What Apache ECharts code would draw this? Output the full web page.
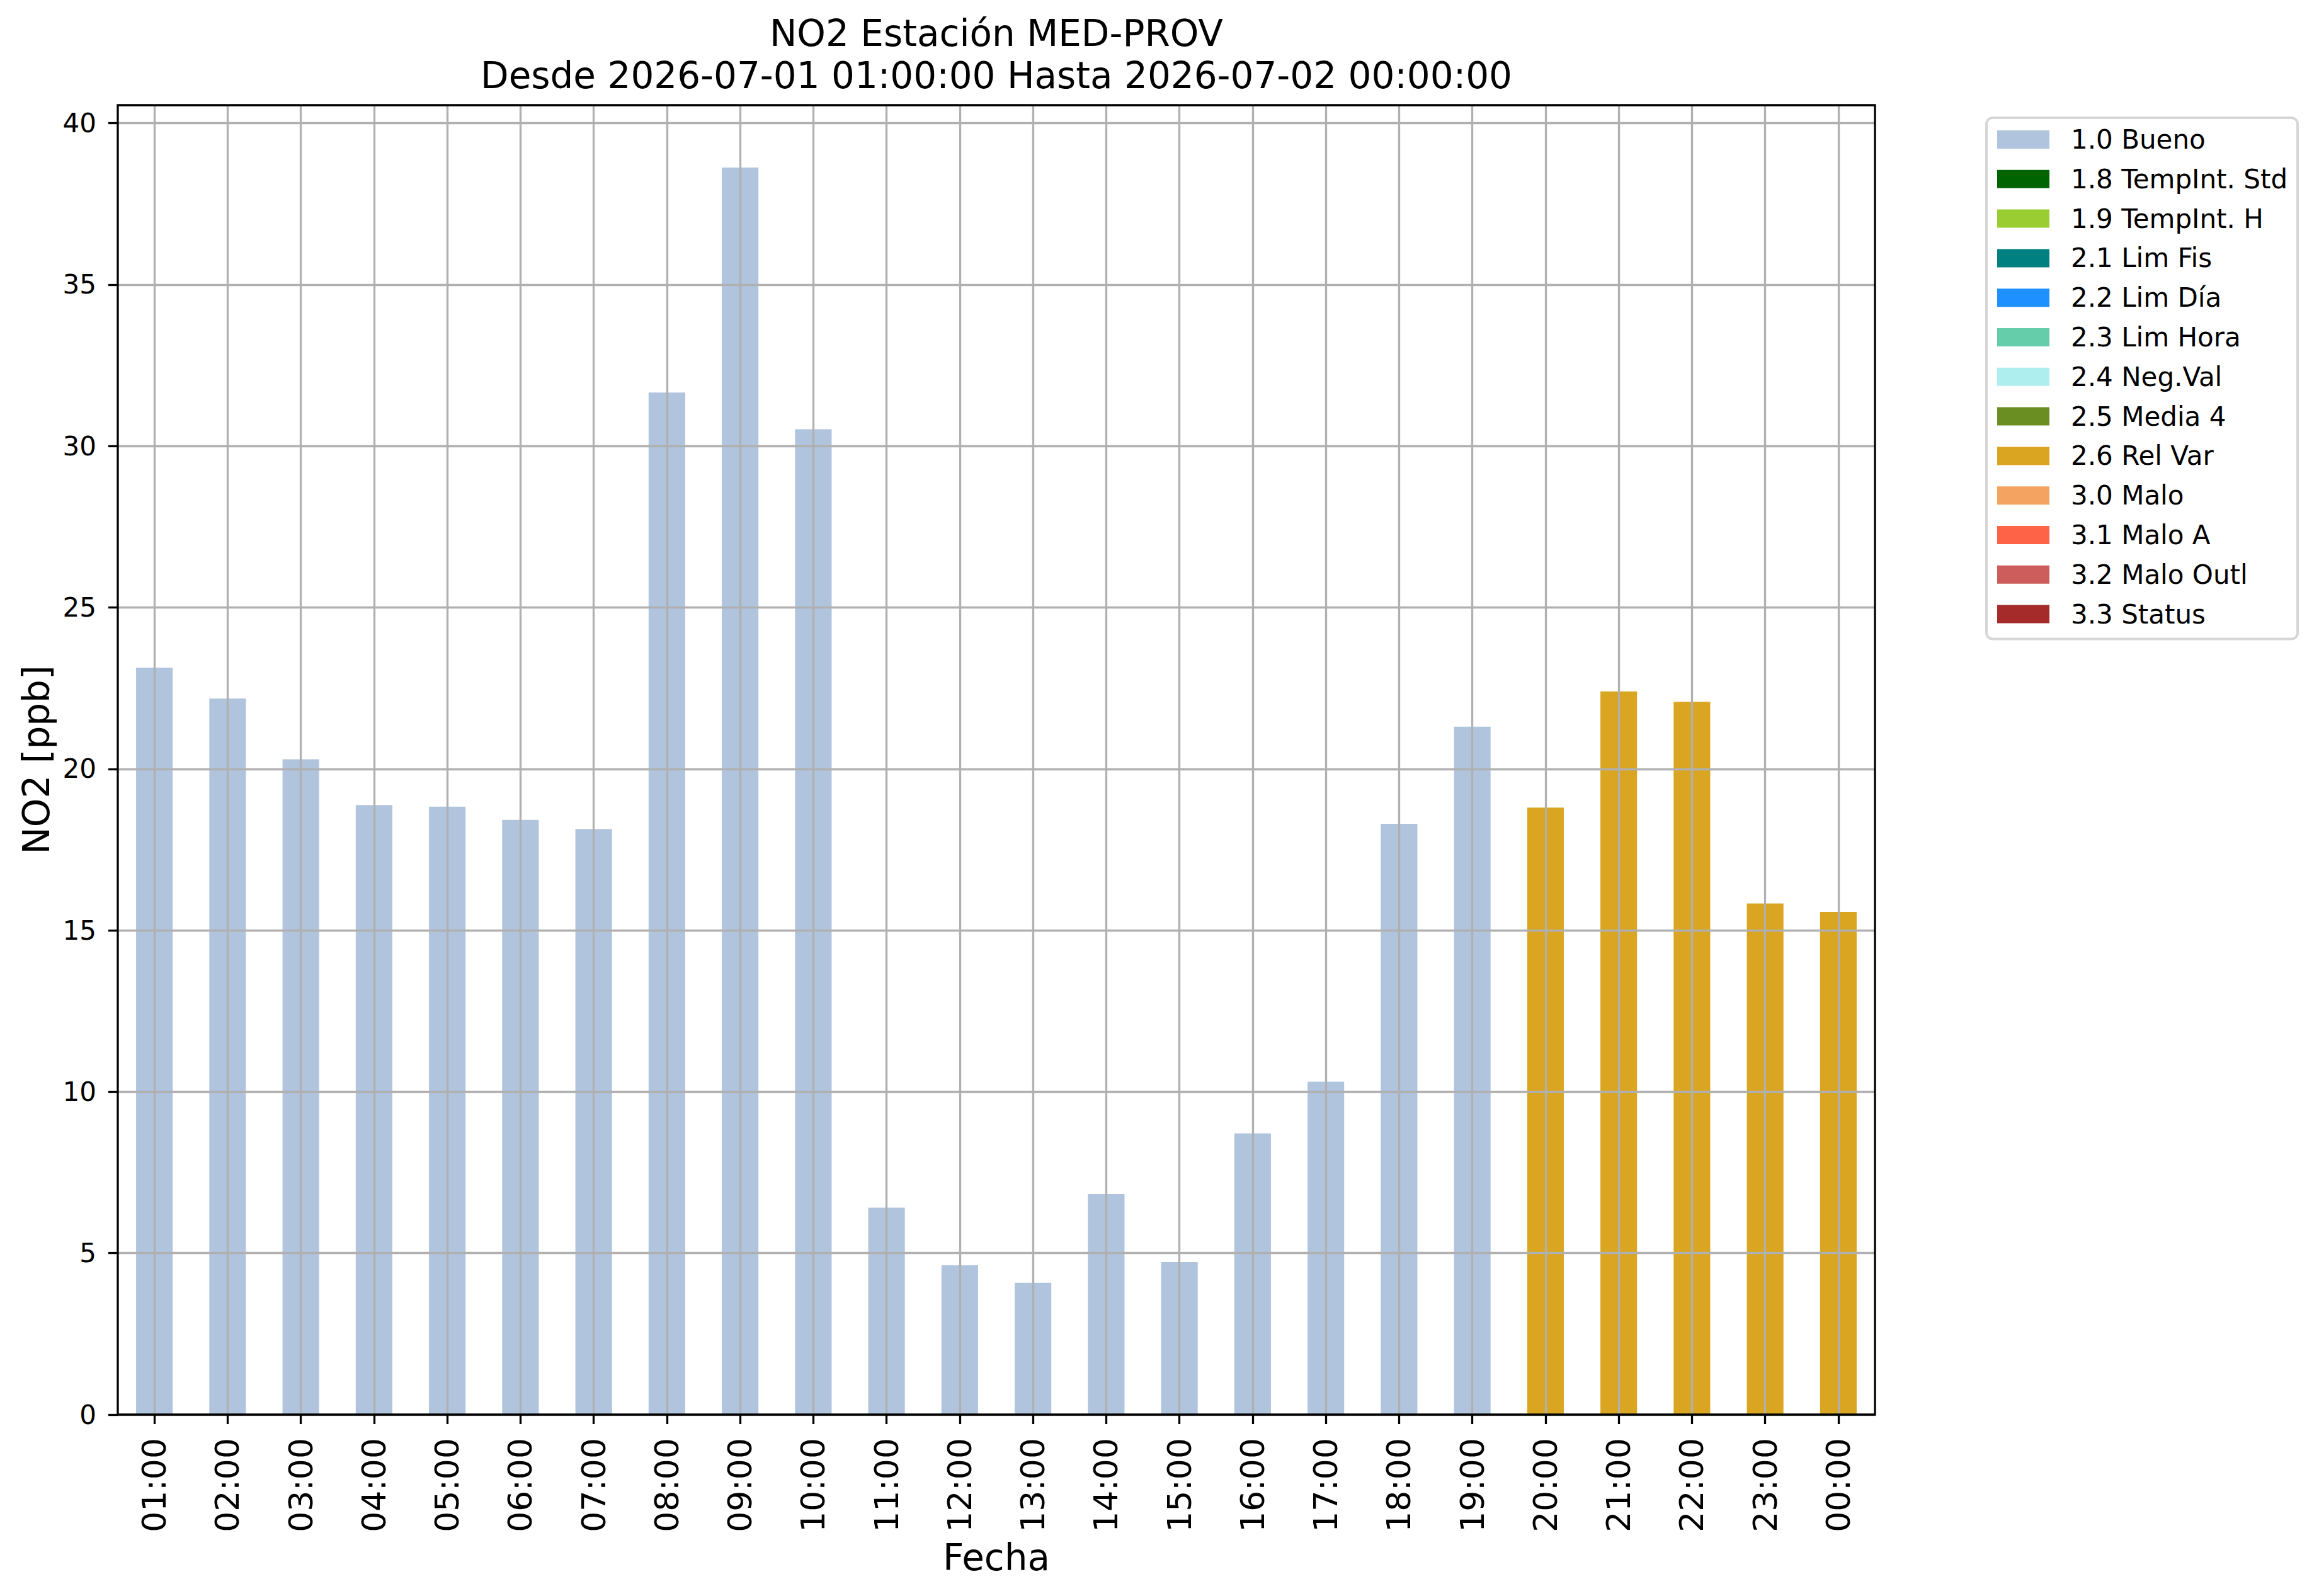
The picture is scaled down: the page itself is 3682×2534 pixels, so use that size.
<!DOCTYPE html>
<html>
<head>
<meta charset="utf-8">
<script src="https://cdn.jsdelivr.net/npm/echarts@6/dist/echarts.min.js"></script>
<style>html,body{margin:0;padding:0;background:#fff}#c{width:3682px;height:2534px}</style>
</head>
<body>
<div id="c"></div>
<script>
const categories = ['01:00','02:00','03:00','04:00','05:00','06:00','07:00','08:00','09:00','10:00','11:00','12:00','13:00','14:00','15:00','16:00','17:00','18:00','19:00','20:00','21:00','22:00','23:00','00:00'];
const bueno = [23.14, 22.18, 20.30, 18.88, 18.83, 18.42, 18.14, 31.66, 38.63, 30.52, 6.41, 4.63, 4.08, 6.83, 4.72, 8.71, 10.31, 18.30, 21.31, null, null, null, null, null];
const relVar = [null, null, null, null, null, null, null, null, null, null, null, null, null, null, null, null, null, null, null, 18.80, 22.40, 22.08, 15.83, 15.57];
const flagNames = ['1.0 Bueno','1.8 TempInt. Std','1.9 TempInt. H','2.1 Lim Fis','2.2 Lim Día','2.3 Lim Hora','2.4 Neg.Val','2.5 Media 4','2.6 Rel Var','3.0 Malo','3.1 Malo A','3.2 Malo Outl','3.3 Status'];
const flagValues = { '1.0 Bueno': bueno, '2.6 Rel Var': relVar };
const yTicks = [0, 5, 10, 15, 20, 25, 30, 35, 40];
const titleText = 'NO2 Estación MED-PROV\nDesde 2026-07-01 01:00:00 Hasta 2026-07-02 00:00:00';
const yName = 'NO2 [ppb]';
const xName = 'Fecha';

const flagColors = ['#b0c4de','#006400','#9acd32','#008080','#1e90ff','#66cdaa','#afeeee','#6b8e23','#daa520','#f4a460','#ff6347','#cd5c5c','#a52a2a'];
const FONT = 'DejaVu Sans';
const yMax = 40.56;

const chart = echarts.init(document.getElementById('c'), null, {renderer: 'svg'});
const series = flagNames.map((n, i) => ({
  name: n,
  type: 'bar',
  stack: 'total',
  barWidth: '50%',
  itemStyle: {color: flagColors[i]},
  data: flagValues[n] || [],
  z: 2
}));

chart.setOption({
  animation: false,
  backgroundColor: '#fff',
  color: flagColors,
  title: {
    text: titleText,
    left: 1582,
    top: 19,
    padding: 0,
    textAlign: 'center',
    textStyle: {fontFamily: FONT, fontSize: 58, fontWeight: 'normal', color: '#000', lineHeight: 67}
  },
  grid: {
    left: 187, right: 705, top: 167, bottom: 288,
    show: true, borderColor: '#000', borderWidth: 3.3, backgroundColor: 'transparent', z: 10,
    containLabel: false
  },
  legend: {
    orient: 'vertical',
    left: 3154,
    top: 187,
    padding: [13.5, 16, 18.5, 17],
    itemWidth: 83,
    itemHeight: 29,
    itemGap: 20.8,
    borderColor: '#d6d6d6',
    borderWidth: 4,
    borderRadius: 10,
    backgroundColor: '#fff',
    icon: 'rect',
    data: flagNames,
    selectedMode: false,
    textStyle: {fontFamily: FONT, fontSize: 42, color: '#000', padding: [0, 0, 0, 29]}
  },
  xAxis: {
    type: 'category',
    data: categories,
    boundaryGap: true,
    z: 6,
    name: xName,
    nameLocation: 'middle',
    nameGap: 198,
    nameTextStyle: {fontFamily: FONT, fontSize: 58, color: '#000'},
    axisLine: {show: false},
    axisTick: {show: true, alignWithLabel: true, length: 15, inside: false, lineStyle: {color: '#000', width: 3.3}},
    axisLabel: {rotate: 90, fontFamily: FONT, fontSize: 52, color: '#000', margin: 37, interval: 0},
    splitLine: {show: true, alignWithLabel: true, interval: 0, lineStyle: {color: '#b0b0b0', width: 3.3}}
  },
  yAxis: {
    type: 'value',
    min: 0,
    max: yMax,
    interval: 5,
    z: 4,
    name: yName,
    nameLocation: 'middle',
    nameRotate: 90,
    nameGap: 100,
    nameTextStyle: {fontFamily: FONT, fontSize: 58, color: '#000'},
    axisLine: {show: false},
    axisTick: {show: true, length: 15, customValues: yTicks, lineStyle: {color: '#000', width: 3.3}},
    axisLabel: {fontFamily: FONT, fontSize: 42, color: '#000', margin: 34, customValues: yTicks,
      formatter: v => (Math.abs(v % 5) < 1e-9 ? String(v) : '')},
    splitLine: {show: true, lineStyle: {color: '#b0b0b0', width: 3.3}}
  },
  series: series
});
</script>
</body>
</html>
